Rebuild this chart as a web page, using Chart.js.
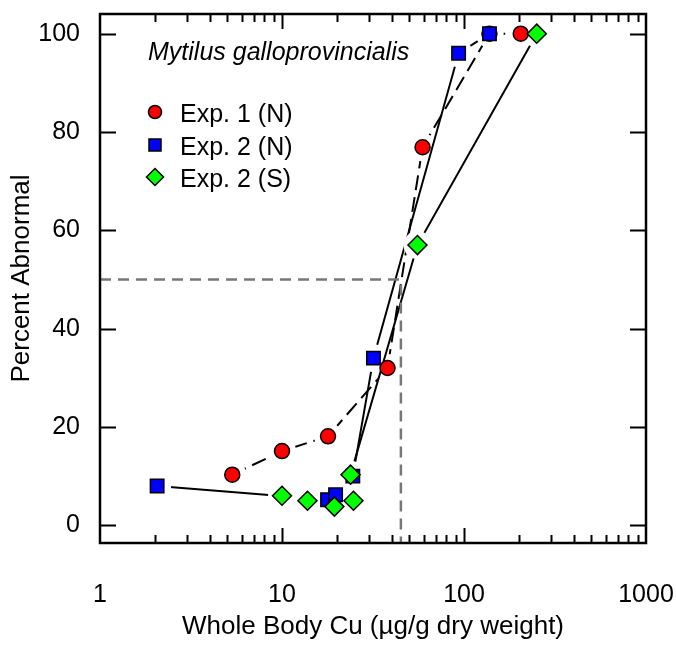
<!DOCTYPE html>
<html>
<head>
<meta charset="utf-8">
<script src="https://cdn.jsdelivr.net/npm/chart.js@4"></script>
<style>
  body { margin: 0; background: #fff; }
  #wrap { width: 676px; height: 645px; }
</style>
</head>
<body>
<div id="wrap"><canvas id="cuChart" width="676" height="645"></canvas></div>
<script>
// values
const exp1N_x = [5.33, 10.0, 17.9, 38.0, 59.2, 138, 205];
const exp1N_y = [10.3, 15.1, 18.1, 32.0, 76.9, 100, 100];
const exp2N_x = [2.06, 17.8, 19.7, 24.5, 31.8, 93.4, 138];
const exp2N_y = [8.0, 5.2, 6.2, 10.0, 34.0, 96.0, 100];
const exp2S_x = [10.0, 13.8, 19.4, 24.7, 23.8, 55.5, 251];
const exp2S_y = [6.0, 5.0, 3.8, 5.0, 10.3, 57.0, 100];
const ec50_x = [1, 45, 45];
const ec50_y = [50, 50, -3.6];
const xTicks = [1, 10, 100, 1000];
const yTicks = [0, 20, 40, 60, 80, 100];
const seriesNames = ['Exp. 1 (N)', 'Exp. 2 (N)', 'Exp. 2 (S)'];

const FONT = '"Liberation Sans", Arial, Helvetica, sans-serif';
Chart.defaults.font.family = FONT;
Chart.defaults.font.size = 25;
Chart.defaults.color = '#000';

function pts(xs, ys) {
    return xs.map((x, i) => ({ x: x, y: ys[i] }));
}

function marker(ctx, style, x, y, r) {
    ctx.beginPath();
    if (style === 'circle') {
        ctx.arc(x, y, r, 0, Math.PI * 2);
    } else if (style === 'rect') {
        const s = r * Math.SQRT1_2;
        ctx.rect(x - s, y - s, 2 * s, 2 * s);
    } else {
        ctx.moveTo(x, y - r);
        ctx.lineTo(x + r, y);
        ctx.lineTo(x, y + r);
        ctx.lineTo(x - r, y);
        ctx.closePath();
    }
    ctx.fill();
    ctx.stroke();
}

const styles = [
    { color: '#ff0000', point: 'circle', r: 7.5, dash: [15, 7] },
    { color: '#0000ff', point: 'rect', r: 9.5, dash: [] },
    { color: '#00ff00', point: 'rectRot', r: 9.5, dash: [] }
];

// frame, inward ticks
const framePlugin = {
    id: 'frame',
    afterDatasetsDraw(chart) {
        const ctx = chart.ctx, a = chart.chartArea;
        const xs = chart.scales.x, ys = chart.scales.y;
        ctx.save();
        ctx.strokeStyle = '#000';
        ctx.lineWidth = 2;
        ctx.beginPath();
        yTicks.forEach(v => {
            const y = Math.round(ys.getPixelForValue(v)) + 0.5;
            ctx.moveTo(a.left, y); ctx.lineTo(a.left + 16, y);
            ctx.moveTo(a.right, y); ctx.lineTo(a.right - 16, y);
        });
        for (let d = 1; d < 1000; d *= 10) {
            for (let m = 1; m < 10; m++) {
                const v = d * m;
                if (v <= 1) continue;
                const len = m === 1 ? 15 : 8;
                const x = Math.round(xs.getPixelForValue(v)) + 0.5;
                ctx.moveTo(x, a.bottom); ctx.lineTo(x, a.bottom - len);
                ctx.moveTo(x, a.top); ctx.lineTo(x, a.top + len);
            }
        }
        ctx.stroke();
        ctx.lineWidth = 2.5;
        ctx.strokeRect(a.left, a.top, a.right - a.left, a.bottom - a.top);

        // title + legend inside the plot
        ctx.fillStyle = '#000';
        ctx.textBaseline = 'alphabetic';
        ctx.textAlign = 'left';
        ctx.font = 'italic 25px ' + FONT;
        ctx.fillText('Mytilus galloprovincialis', 148, 60);
        ctx.font = '25px ' + FONT;
        const rows = [112, 145, 177];
        seriesNames.forEach((name, i) => {
            const st = styles[i];
            ctx.fillStyle = st.color;
            ctx.strokeStyle = '#000';
            ctx.lineWidth = 1.5;
            marker(ctx, st.point, 155, rows[i], st.r - 1);
            ctx.fillStyle = '#000';
            ctx.fillText(name, 180, rows[i] + 10);
        });
        ctx.restore();
    }
};

const series = [pts(exp1N_x, exp1N_y), pts(exp2N_x, exp2N_y), pts(exp2S_x, exp2S_y)];
const datasets = [];
series.forEach((data, i) => {
    const st = styles[i];
    datasets.push({
        label: seriesNames[i] + ' line',
        data: data,
        showLine: true,
        borderColor: '#000',
        borderWidth: 2,
        borderDash: st.dash,
        pointRadius: 0,
        order: 10 - 2 * i
    });
    datasets.push({
        label: seriesNames[i] + ' gap',
        data: data,
        showLine: false,
        pointRadius: 14,
        pointBackgroundColor: '#fff',
        pointBorderWidth: 0,
        order: 9 - 2 * i
    });
    datasets.push({
        label: seriesNames[i],
        data: data,
        showLine: false,
        pointStyle: st.point,
        pointRadius: st.r,
        pointBackgroundColor: st.color,
        pointBorderColor: '#000',
        pointBorderWidth: 1.5,
        order: 3 - i
    });
});
datasets.push({
    label: 'EC50',
    data: pts(ec50_x, ec50_y),
    showLine: true,
    borderColor: '#777',
    borderWidth: 2.5,
    borderDash: [11, 7],
    pointRadius: 0,
    order: 4
});

function noPad(s) {
    s.paddingLeft = 0; s.paddingRight = 0;
    s.paddingTop = 0; s.paddingBottom = 0;
}

new Chart(document.getElementById('cuChart'), {
    type: 'scatter',
    data: { datasets: datasets },
    options: {
        responsive: false,
        animation: false,
        events: [],
        layout: { padding: { left: 0, right: 30, top: 8, bottom: 0 } },
        plugins: {
            legend: { display: false },
            tooltip: { enabled: false }
        },
        scales: {
            x: {
                type: 'logarithmic',
                min: 1,
                max: 1000,
                afterBuildTicks: s => { s.ticks = xTicks.map(v => ({ value: v })); },
                afterFit: s => { s.height = 102; noPad(s); },
                grid: { display: false, drawTicks: false },
                border: { display: false },
                ticks: {
                    autoSkip: false,
                    maxRotation: 0,
                    padding: 37,
                    callback: v => String(v)
                },
                title: {
                    display: true,
                    text: 'Whole Body Cu (\u00b5g/g dry weight)',
                    font: { size: 26 },
                    padding: { top: 0, bottom: 3 }
                }
            },
            y: {
                type: 'linear',
                min: -3.6,
                max: 104,
                afterBuildTicks: s => { s.ticks = yTicks.map(v => ({ value: v })); },
                afterFit: s => { s.width = 100; noPad(s); },
                grid: { display: false, drawTicks: false },
                border: { display: false },
                ticks: { padding: 20 },
                title: {
                    display: true,
                    text: 'Percent Abnormal',
                    font: { size: 26 },
                    padding: { top: 6, bottom: 0 }
                }
            }
        }
    },
    plugins: [framePlugin]
});
</script>
</body>
</html>
